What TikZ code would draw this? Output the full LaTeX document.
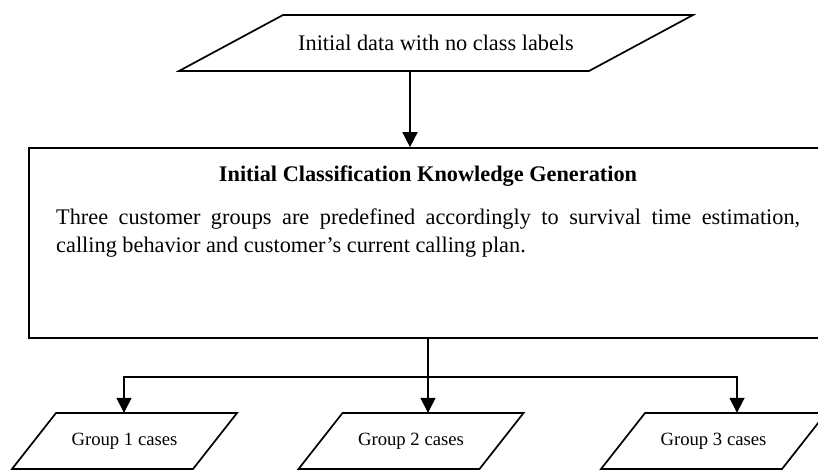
\documentclass[tikz,border=0pt]{standalone}
\usepackage{fontspec}
\setmainfont{Liberation Serif}
\usetikzlibrary{arrows.meta,calc}
\begin{document}
\begin{tikzpicture}[x=1pt,y=-1pt,
  edge/.style={line width=1.7pt, line join=miter},
  arr/.style={edge,-{Triangle[width=15pt,length=15pt]}},
  bigtext/.style={font=\fontsize{22.3}{28}\selectfont},
  smalltext/.style={font=\fontsize{18.7}{22}\selectfont},
  datanode/.style={inner sep=0pt, minimum height=56pt}]
\useasboundingbox (0,0) rectangle (818,471);
\clip (0,0) rectangle (818,471);

% input data (parallelogram)
\node[bigtext, datanode] (src) at (436,43) {Initial data with no class labels};
\draw[edge] ($(src.center)+(-257,28)$) -- ++(410,0) -- ++(104,-56) -- ++(-410,0) -- cycle;

% knowledge generation block
\node[draw, edge, minimum width=798pt, minimum height=190pt, inner sep=0pt] (gen) at (428,243) {};
\node[font=\fontsize{22.3}{28}\selectfont\bfseries, anchor=base, inner sep=0pt] (title) at (428,181)
  {Initial Classification Knowledge Generation};
\node[bigtext, text width=744pt, align=justify, inner sep=0pt, anchor=north west] (body) at (56,209)
  {Three customer groups are predefined accordingly to survival time estimation,\linebreak
   calling behavior and customer’s current calling plan.};

% output groups (parallelograms)
\node[smalltext, datanode] (g1) at (124.5,441) {Group 1 cases};
\node[smalltext, datanode] (g2) at (411,441) {Group 2 cases};
\node[smalltext, datanode] (g3) at (713.5,441) {Group 3 cases};
\foreach \g in {g1,g2,g3}
  \draw[edge] ($(\g.center)+(-112.5,28)$) -- ++(181,0) -- ++(44,-56) -- ++(-181,0) -- cycle;

% connectors
\draw[arr] ([xshift=-26pt]src.south) -- ([xshift=-26pt]src.south |- gen.north);
\draw[arr] (gen.south) -- (gen.south |- g2.north);
\coordinate (fork) at ($(gen.south)+(0,38)$);
\draw[arr] (fork) -| ([xshift=-0.5pt]g1.north);
\draw[arr] (fork) -| ([xshift=23.5pt]g3.north);
\end{tikzpicture}
\end{document}
